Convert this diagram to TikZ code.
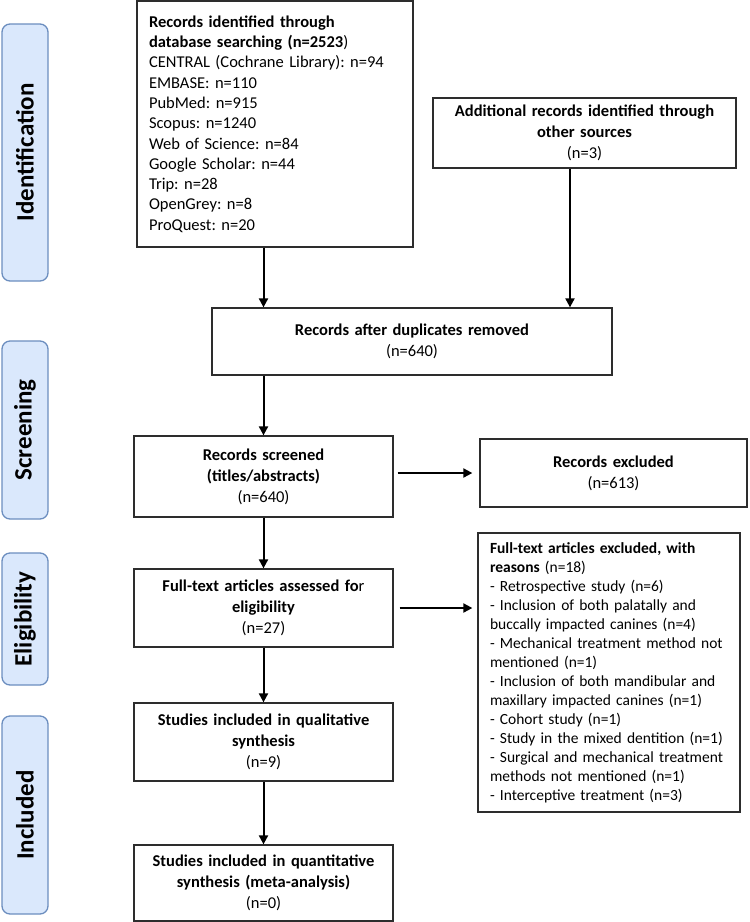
\documentclass[tikz,border=0pt]{standalone}
\usepackage{fontspec}
\setmainfont{Carlito}
\usetikzlibrary{arrows.meta, positioning, calc}
\definecolor{phasefill}{RGB}{218, 232, 252}
\definecolor{phasedraw}{RGB}{108, 142, 191}
\definecolor{boxdraw}{RGB}{45, 45, 45}
\frenchspacing

\begin{document}
\begin{tikzpicture}[
    x=1pt, y=-1pt,
    phase/.style={rectangle, rounded corners=8pt, draw=phasedraw, line width=1.3pt, fill=phasefill,
                  minimum height=46pt, inner sep=0pt, rotate=90, font=\fontsize{25}{28}\selectfont\bfseries},
    box/.style={rectangle, draw=boxdraw, line width=1.3pt, align=center, inner xsep=8pt, inner ysep=4pt,
                font=\fontsize{16.5}{21}\selectfont},
    listbox/.style={box, align=left, inner xsep=12pt, font=\fontsize{16.5}{20.3}\selectfont},
    arr/.style={-{Triangle[width=9pt, length=9pt]}, line width=2pt}
]
\useasboundingbox (0, 0) rectangle (750, 922);

% Phase labels (left column)
\node[phase, minimum width=257pt] (ident) at (25, 152.5) {Identification};
\node[phase, minimum width=178pt] (screen) at (25, 430) {Screening};
\node[phase, minimum width=132pt] (elig) at (25, 619) {Eligibility};
\node[phase, minimum width=198pt] (incl) at (25, 815) {Included};

% Identification
\node[listbox, text width=252pt, minimum height=246pt] (rec) at (275, 124) {\textbf{Records identified through}\\
    \textbf{database searching (n=2523})\\
    CENTRAL (Cochrane Library): n=94\\
    EMBASE: n=110\\
    PubMed: n=915\\
    Scopus: n=1240\\
    Web of Science: n=84\\
    Google Scholar: n=44\\
    Trip: n=28\\
    OpenGrey: n=8\\
    ProQuest: n=20};
\node[box, text width=287pt, minimum height=70pt] (add) at (584.5, 133) {\textbf{Additional records identified through}\\
    \textbf{other sources}\\(n=3)};

% Screening
\node[box, text width=384pt, minimum height=67pt] (dup) at (412, 341.5) {\textbf{Records after duplicates removed}\\(n=640)};
\node[box, text width=243pt, minimum height=81pt] (scr) at (263.5, 476.5) {\textbf{Records screened}\\
    \textbf{(titles/abstracts)}\\(n=640)};
\node[box, text width=251pt, minimum height=68pt] (exc) at (613.5, 473) {\textbf{Records excluded}\\(n=613)};

% Eligibility
\node[box, text width=243pt, minimum height=78pt] (full) at (263.5, 608) {\textbf{Full-text articles assessed fo}r\\
    \textbf{eligibility}\\(n=27)};
\node[listbox, text width=238pt, minimum height=279pt, font=\fontsize{15.5}{19}\selectfont] (why) at (609, 672.5) {\textbf{Full-text articles excluded, with}\\
    \textbf{reasons} (n=18)\\
    - Retrospective study (n=6)\\
    - Inclusion of both palatally and\\
    buccally impacted canines (n=4)\\
    - Mechanical treatment method not\\
    mentioned (n=1)\\
    - Inclusion of both mandibular and\\
    maxillary impacted canines (n=1)\\
    - Cohort study (n=1)\\
    - Study in the mixed dentition (n=1)\\
    - Surgical and mechanical treatment\\
    methods not mentioned (n=1)\\
    - Interceptive treatment (n=3)};

% Included
\node[box, text width=243pt, minimum height=78pt] (qual) at (263.5, 742) {\textbf{Studies included in qualitative}\\
    \textbf{synthesis}\\(n=9)};
\node[box, text width=243pt, minimum height=76pt] (quant) at (263.5, 883) {\textbf{Studies included in quantitative}\\
    \textbf{synthesis (meta-analysis)}\\(n=0)};

% Flow arrows
\draw[arr] (rec.south -| scr.north) -- (dup.north -| scr.north);
\draw[arr] ([xshift=-14.5pt]add.south) -- ([xshift=-14.5pt]add.south |- dup.north);
\draw[arr] (dup.south -| scr.north) -- (scr.north);
\draw[arr, shorten <=4pt, shorten >=7pt] (scr.east |- exc.west) -- (exc.west);
\draw[arr] (scr.south) -- (full.north);
\draw[arr, shorten <=6pt, shorten >=5pt] (full.east) -- (full.east -| why.west);
\draw[arr] (full.south) -- (qual.north);
\draw[arr] (qual.south) -- (quant.north);

\end{tikzpicture}
\end{document}
